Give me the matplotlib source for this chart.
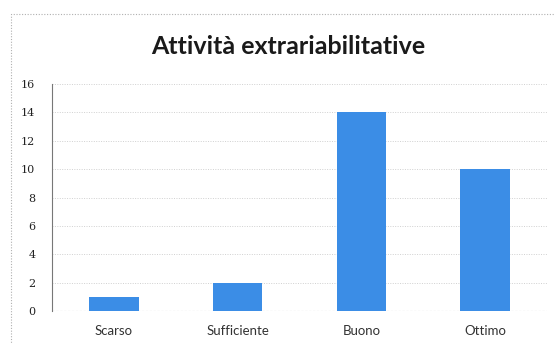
import matplotlib
matplotlib.use("Agg")
import matplotlib.pyplot as plt
from matplotlib.patches import Rectangle

categories = ["Scarso", "Sufficiente", "Buono", "Ottimo"]
values = [1, 2, 14, 10]
yticks = [0, 2, 4, 6, 8, 10, 12, 14, 16]

fig = plt.figure(figsize=(5.55, 3.43), dpi=100)
fig.patch.set_facecolor("white")

# chart frame
fig.add_artist(Rectangle((11 / 555, -0.05), 1.2, 1 - 14 / 343 + 0.05,
                         transform=fig.transFigure, fill=False,
                         edgecolor="#b0b0b0", linewidth=0.8, linestyle=(0, (1, 1.5))))

ax = fig.add_axes([52 / 555, 1 - 311 / 343, (547 - 52) / 555, (311 - 84) / 343])
x = range(len(categories))
ax.bar(x, values, width=0.4, color="#3b8de6", zorder=3)
ax.set_xlim(-0.5, len(categories) - 0.5)
ax.set_ylim(0, 16)
ax.set_yticks(yticks)
ax.set_xticks(list(x))
ax.set_xticklabels(categories, fontfamily="Lato", fontsize=9.5, color="#333333")
ax.set_yticklabels([str(t) for t in yticks], fontfamily="DejaVu Serif", fontsize=8, color="#222222")
ax.tick_params(axis="y", length=0, pad=12)
ax.tick_params(axis="x", length=0, pad=10)
ax.grid(axis="y", color="#d0d0d0", linestyle=(0, (1, 1.5)), linewidth=0.7, zorder=0)
for s in ["top", "right", "bottom"]:
    ax.spines[s].set_visible(False)
ax.spines["left"].set_color("#777777")
ax.spines["left"].set_linewidth(0.8)
ax.axhline(0, color="#aaaaaa", linewidth=0.8, linestyle=(0, (2, 1.5)), zorder=2)

fig.text(288 / 555, 1 - 47 / 343, "Attività extrariabilitative", ha="center", va="center",
         fontfamily="Lato", fontweight="bold", fontsize=18, color="#1a1a1a")

fig.savefig("out.png", dpi=100)
